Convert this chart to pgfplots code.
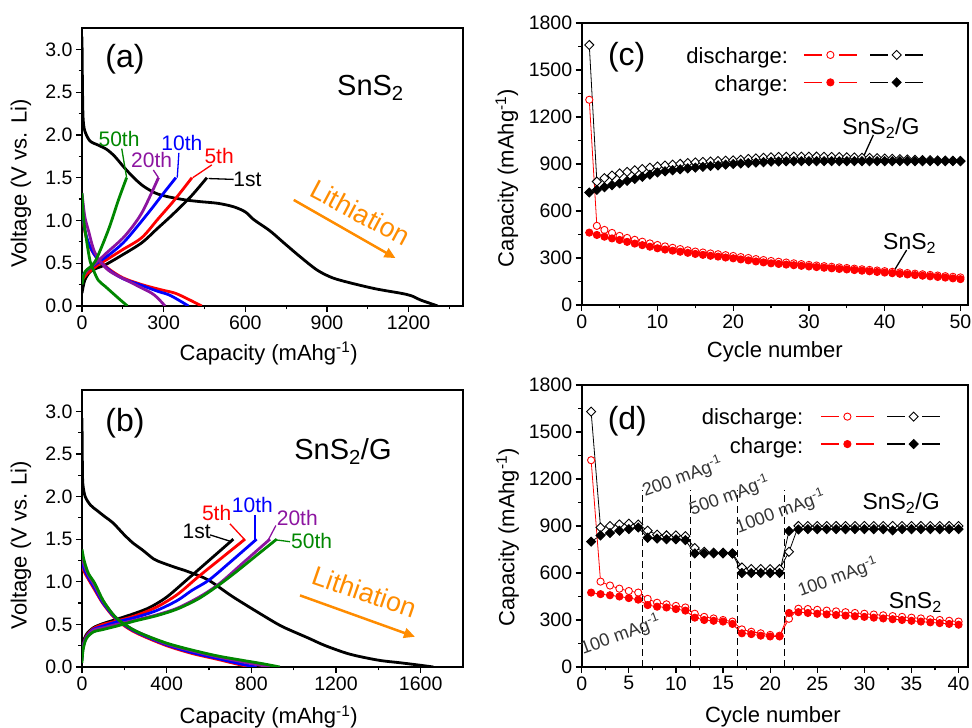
\documentclass[border=0pt]{standalone}
\usepackage{fontspec}
\setmainfont{Liberation Sans}
\usepackage{pgfplots}
\usepackage{pgfplotstable}
\pgfplotsset{compat=1.18}
\usetikzlibrary{arrows.meta}
\definecolor{cred}{RGB}{255,0,0}
\definecolor{cblue}{RGB}{0,0,255}
\definecolor{cpurple}{RGB}{140,20,160}
\definecolor{cgreen}{RGB}{0,135,0}
\definecolor{corange}{RGB}{255,140,0}
\newcommand{\fs}[1]{\fontsize{#1}{#1}\selectfont}

\pgfplotstableread{
cyc gd gc sd sc
1 1660 718 1310 462
2 788 735 505 447
3 810 752 479 436
4 826 765 460 425
5 840 777 441 415
6 850 792 428 403
7 860 805 416 392
8 868 818 404 382
9 876 832 393 372
10 884 846 383 362
11 890 853 374 354
12 896 860 365 347
13 901 866 357 340
14 906 872 349 333
15 910 877 341 326
16 913 882 335 320
17 916 887 329 314
18 919 891 324 309
19 921 896 318 303
20 923 900 313 298
21 927 903 306 291
22 932 906 300 285
23 936 909 293 278
24 940 912 287 272
25 943 915 281 266
26 945 916 276 262
27 946 917 271 258
28 947 918 266 254
29 947 918 261 250
30 947 918 256 246
31 947 918 252 242
32 946 918 248 238
33 945 918 244 234
34 944 918 240 230
35 943 918 236 227
36 942 918 232 223
37 940 918 228 219
38 939 918 224 215
39 937 918 220 211
40 935 918 216 207
41 933 918 212 203
42 931 918 208 199
43 929 918 204 195
44 927 918 200 191
45 925 918 196 187
46 924 918 192 183
47 923 918 188 179
48 922 918 184 175
49 921 918 180 170
50 920 918 176 165
}\tabc

\pgfplotstableread{
cyc gd gc sd sc
1 1630 800 1320 475
2 890 840 545 465
3 900 855 520 458
4 910 870 500 450
5 915 880 485 440
6 910 890 475 430
7 870 825 435 395
8 845 820 410 385
9 840 815 400 380
10 840 815 390 370
11 835 810 380 360
12 760 725 340 315
13 735 725 320 300
14 730 725 310 295
15 730 725 300 290
16 725 725 290 275
17 635 600 240 215
18 625 600 225 210
19 625 600 215 200
20 625 600 205 195
21 625 600 200 195
22 735 868 308 345
23 900 878 372 350
24 900 880 370 345
25 900 880 365 340
26 900 880 360 336
27 900 880 355 332
28 900 880 350 328
29 900 880 345 324
30 900 880 340 320
31 900 880 335 315
32 900 880 330 310
33 900 872 325 305
34 900 880 320 300
35 900 880 315 295
36 900 880 310 290
37 900 880 305 285
38 900 880 300 280
39 900 880 295 275
40 900 880 290 270
}\tabd

\pgfplotsset{
  panel/.style={
    scale only axis,
    axis line style={line width=1.6pt},
    tick style={line width=1.2pt, black},
    major tick length=6pt, minor tick length=3.5pt,
    tick align=outside,
    xtick pos=left, ytick pos=left,
    /pgf/number format/assume math mode=true,
    /pgf/number format/1000 sep={},
    tick label style={font=\fs{19.5}},
    label style={font=\fs{22}},
  },
  vpanel/.style={panel, ymin=0, ymax=3.25, ytick={0,0.5,...,3.0},
    minor ytick={0.25,0.75,...,2.75},
    yticklabel style={/pgf/number format/.cd, fixed, fixed zerofill, precision=1},
    ylabel={Voltage (V vs. Li)},
    xlabel={Capacity (mAhg\textsuperscript{-1})},
    ylabel style={at={(axis description cs:-0.16,0.44)}, anchor=center},
  },
  cpanel/.style={panel, ymin=0, ymax=1800, ytick={0,300,...,1800},
    minor ytick={150,450,...,1650},
    ylabel={Capacity (mAhg\textsuperscript{-1})},
    xlabel={Cycle number},
    legend columns=2,
    legend style={draw=none, fill=none, inner sep=0pt, anchor=north west,
      row sep=18.4pt, nodes={inner sep=0pt},
      /tikz/every even column/.append style={column sep=11pt}},
    legend image code/.code={
      \draw[##1,mark=none,line width=1.3pt] (0pt,0pt) -- (18pt,0pt);
      \draw[##1,mark=none,line width=1.3pt] (35pt,0pt) -- (53pt,0pt);
      \draw[##1] plot[only marks] coordinates {(26.5pt,0pt)};
    },
  },
  gdst/.style={black, line width=0.8pt, mark=square*, mark size=3.2pt, mark options={rotate=45, fill=white, line width=0.9pt}},
  gcst/.style={black, line width=0.8pt, mark=square*, mark size=3.2pt, mark options={rotate=45, fill=black, line width=0.9pt}},
  sdst/.style={cred, line width=0.8pt, mark=*, mark size=3.6pt, mark options={fill=white, line width=0.9pt}},
  scst/.style={cred, line width=0.8pt, mark=*, mark size=3.6pt, mark options={fill=cred, line width=0.9pt}},
}

\begin{document}
\begin{tikzpicture}
\useasboundingbox (0,0) rectangle (972pt,728pt);

% ---------------- (a)
\begin{axis}[vpanel, at={(82pt,422pt)}, anchor=south west, width=381pt, height=278pt,
  xmin=0, xmax=1400, xtick={0,300,...,1200}, minor xtick={150,450,...,1350},
  xlabel style={at={(axis description cs:0.49,-0.17)}, anchor=center}]
\addplot[black, line width=2.8pt, smooth] coordinates {(0,3.15)(1,2.8)(2,2.5)(4,2.2)(10,2.05)(29,1.93)(60,1.88)(91,1.83)(120,1.75)(152,1.63)(190,1.5)(226,1.4)(270,1.32)(312,1.28)(380,1.24)(434,1.22)(500,1.2)(557,1.16)(600,1.1)(631,1.01)(690,0.88)(741,0.74)(800,0.58)(864,0.42)(920,0.33)(986,0.27)(1080,0.2)(1170,0.15)(1210,0.12)(1244,0.07)(1280,0.03)(1307,0)};
\addplot[black, line width=2.8pt, smooth] coordinates {(0,0.15)(10,0.3)(30,0.4)(60,0.45)(85,0.48)(150,0.6)(220,0.74)(275,0.9)(330,1.06)(400,1.28)(459,1.5)};
\addplot[cred, line width=2.8pt, smooth] coordinates {(0,1.25)(5,1.0)(12,0.85)(25,0.72)(50,0.58)(96,0.44)(150,0.33)(220,0.25)(290,0.19)(342,0.15)(390,0.08)(440,0)};
\addplot[cred, line width=2.8pt, smooth] coordinates {(0,0.3)(20,0.38)(59,0.48)(100,0.56)(150,0.66)(220,0.8)(280,1.02)(340,1.24)(404,1.5)};
\addplot[cblue, line width=2.8pt, smooth] coordinates {(0,1.27)(5,1.02)(12,0.87)(25,0.73)(50,0.58)(96,0.43)(150,0.32)(220,0.24)(280,0.17)(320,0.13)(360,0.06)(391,0)};
\addplot[cblue, line width=2.8pt, smooth] coordinates {(0,0.35)(20,0.42)(55,0.5)(100,0.6)(158,0.76)(244,1.09)(300,1.32)(345,1.5)};
\addplot[cpurple, line width=2.8pt, smooth] coordinates {(0,1.32)(10,1.05)(23,0.89)(48,0.62)(96,0.42)(183,0.27)(256,0.15)(285,0.07)(305,0)};
\addplot[cpurple, line width=2.8pt, smooth] coordinates {(0,0.33)(20,0.42)(50,0.5)(90,0.62)(158,0.82)(220,1.09)(281,1.5)};
\addplot[cgreen, line width=2.8pt, smooth] coordinates {(0,1.32)(5,1.05)(11,0.89)(20,0.7)(30,0.52)(42,0.42)(60,0.3)(85,0.23)(120,0.13)(145,0.06)(167,0)};
\addplot[cgreen, line width=2.8pt, smooth] coordinates {(0,0.25)(11,0.4)(48,0.52)(97,0.89)(134,1.24)(164,1.5)};
% labels
\node[font=\fs{32}] at (axis cs:158,2.88) {(a)};
\node[font=\fs{29}] at (axis cs:1060,2.55) {SnS\textsubscript{2}};
\node[font=\fs{21}, text=cgreen] at (axis cs:136,1.95) {50th};
\draw[cgreen, line width=1.3pt] (axis cs:164,1.5) -- (axis cs:146,1.84);
\node[font=\fs{21}, text=cpurple] at (axis cs:256,1.71) {20th};
\draw[cpurple, line width=1.3pt] (axis cs:281,1.5) -- (axis cs:262,1.59);
\node[font=\fs{21}, text=cblue] at (axis cs:367,1.90) {10th};
\draw[cblue, line width=1.3pt] (axis cs:350,1.5) -- (axis cs:356,1.79);
\node[font=\fs{21}, text=cred] at (axis cs:504,1.75) {5th};
\draw[cred, line width=1.3pt] (axis cs:407,1.5) -- (axis cs:477,1.65);
\node[font=\fs{21}, text=black] at (axis cs:608,1.48) {1st};
\draw[black, line width=1.3pt] (axis cs:465,1.49) -- (axis cs:557,1.48);
\node[font=\fs{27}, text=corange, rotate=-28] at (axis cs:1023,1.09) {Lithiation};
\draw[corange, line width=2.5pt, -{Triangle[length=11pt,width=10pt]}] (axis cs:778,1.24) -- (axis cs:1152,0.56);
\end{axis}

% ---------------- (b)
\begin{axis}[vpanel, at={(82pt,61pt)}, anchor=south west, width=381pt, height=277pt,
  xmin=0, xmax=1800, xtick={0,400,...,1600}, minor xtick={200,600,1000,1400},
  xlabel style={at={(axis description cs:0.49,-0.18)}, anchor=center}]
\addplot[black, line width=2.8pt, smooth] coordinates {(0,2.92)(1,2.6)(2,2.35)(4,2.15)(15,2.0)(40,1.9)(69,1.84)(110,1.76)(147,1.69)(200,1.55)(243,1.45)(282,1.38)(337,1.27)(361,1.24)(439,1.17)(500,1.12)(597,1.02)(715,0.82)(872,0.58)(950,0.47)(1069,0.34)(1150,0.25)(1266,0.15)(1400,0.08)(1502,0.05)(1600,0.02)(1660,0)};
\addplot[black, line width=2.8pt, smooth] coordinates {(0,0.15)(5,0.28)(20,0.38)(53,0.46)(100,0.51)(164,0.56)(250,0.63)(321,0.7)(400,0.82)(494,1.02)(600,1.25)(715,1.5)};
\addplot[cred, line width=2.8pt, smooth] coordinates {(0,1.2)(10,1.12)(30,1.03)(61,0.9)(100,0.74)(156,0.57)(220,0.45)(282,0.37)(400,0.25)(518,0.16)(640,0.09)(740,0.03)(800,0)};
\addplot[cred, line width=2.8pt, smooth] coordinates {(0,0.12)(5,0.25)(20,0.36)(53,0.45)(100,0.5)(164,0.54)(250,0.6)(350,0.7)(450,0.85)(550,1.06)(660,1.28)(770,1.5)};
\addplot[cblue, line width=2.8pt, smooth] coordinates {(0,1.25)(10,1.15)(30,1.05)(61,0.92)(100,0.75)(156,0.58)(220,0.46)(282,0.38)(400,0.26)(518,0.17)(640,0.1)(760,0.03)(825,0)};
\addplot[cblue, line width=2.8pt, smooth] coordinates {(0,0.1)(5,0.24)(20,0.35)(53,0.44)(100,0.48)(164,0.53)(250,0.58)(350,0.66)(450,0.78)(520,0.9)(600,1.02)(700,1.23)(825,1.5)};
\addplot[cpurple, line width=2.8pt, smooth] coordinates {(0,1.3)(10,1.2)(30,1.08)(61,0.95)(100,0.77)(156,0.59)(220,0.47)(282,0.39)(400,0.27)(518,0.19)(640,0.12)(780,0.05)(890,0)};
\addplot[cpurple, line width=2.8pt, smooth] coordinates {(0,0.08)(5,0.23)(20,0.34)(53,0.43)(100,0.46)(164,0.5)(250,0.55)(350,0.61)(450,0.69)(560,0.83)(650,0.98)(760,1.22)(888,1.5)};
\addplot[cgreen, line width=2.8pt, smooth] coordinates {(0,1.38)(10,1.25)(30,1.1)(61,0.98)(100,0.78)(156,0.59)(220,0.47)(282,0.39)(400,0.28)(518,0.2)(640,0.13)(754,0.08)(850,0.04)(935,0)};
\addplot[cgreen, line width=2.8pt, smooth] coordinates {(0,0.05)(5,0.2)(20,0.33)(53,0.41)(100,0.44)(164,0.48)(250,0.54)(350,0.6)(450,0.68)(550,0.8)(640,0.95)(720,1.1)(820,1.3)(920,1.5)};
\node[font=\fs{32}] at (axis cs:203,2.86) {(b)};
\node[font=\fs{29}] at (axis cs:1233,2.53) {SnS\textsubscript{2}/G};
\node[font=\fs{21}, text=black] at (axis cs:542,1.59) {1st};
\draw[black, line width=1.3pt] (axis cs:605,1.55) -- (axis cs:707,1.47);
\node[font=\fs{21}, text=cred] at (axis cs:636,1.81) {5th};
\draw[cred, line width=1.3pt] (axis cs:699,1.68) -- (axis cs:770,1.49);
\node[font=\fs{21}, text=cblue] at (axis cs:805,1.90) {10th};
\draw[cblue, line width=1.3pt] (axis cs:817,1.78) -- (axis cs:817,1.49);
\node[font=\fs{21}, text=cpurple] at (axis cs:1017,1.75) {20th};
\draw[cpurple, line width=1.3pt] (axis cs:916,1.66) -- (axis cs:880,1.49);
\node[font=\fs{21}, text=cgreen] at (axis cs:1085,1.48) {50th};
\draw[cgreen, line width=1.3pt] (axis cs:920,1.49) -- (axis cs:983,1.47);
\node[font=\fs{27}, text=corange, rotate=-19] at (axis cs:1337,0.88) {Lithiation};
\draw[corange, line width=2.5pt, -{Triangle[length=11pt,width=10pt]}] (axis cs:1030,0.84) -- (axis cs:1573,0.355);
\end{axis}

% ---------------- (c)
\begin{axis}[cpanel, at={(581.7pt,423pt)}, anchor=south west, width=386.3pt, height=282pt,
  xmin=0, xmax=51, xtick={0,10,...,50}, minor xtick={5,15,...,45},
  ylabel style={at={(axis description cs:-0.194,0.45)}, anchor=center},
  xlabel style={at={(axis description cs:0.50,-0.167)}, anchor=center},
  legend style={at={(axis description cs:0.573,0.9035)}}]
\addplot[gdst, forget plot] table[x=cyc, y=gd] {\tabc};
\addplot[gcst, forget plot] table[x=cyc, y=gc] {\tabc};
\addplot[sdst, forget plot] table[x=cyc, y=sd] {\tabc};
\addplot[scst, forget plot] table[x=cyc, y=sc] {\tabc};
\addlegendimage{sdst}\addlegendentry{}
\addlegendimage{gdst}\addlegendentry{}
\addlegendimage{scst}\addlegendentry{}
\addlegendimage{gcst}\addlegendentry{}
\node[font=\fs{32}] at (axis cs:5.94,1581) {(c)};
\node[font=\fs{22}, anchor=base east] at (axis cs:27.7,1544) {discharge:};
\node[font=\fs{22}, anchor=base east] at (axis cs:27.7,1362) {charge:};
\node[font=\fs{23}] at (axis cs:39.5,1128) {SnS\textsubscript{2}/G};
\draw[line width=1.3pt] (axis cs:38.5,1085) -- (axis cs:37,925);
\node[font=\fs{23}] at (axis cs:43.3,394) {SnS\textsubscript{2}};
\draw[line width=1.3pt] (axis cs:42.9,351) -- (axis cs:40.9,191);
\end{axis}

% ---------------- (d)
\begin{axis}[cpanel, at={(581.7pt,61pt)}, anchor=south west, width=386.3pt, height=282pt,
  xmin=0, xmax=41, xtick={0,5,...,40}, minor xtick={2.5,7.5,...,37.5},
  ylabel style={at={(axis description cs:-0.192,0.46)}, anchor=center},
  xlabel style={at={(axis description cs:0.495,-0.176)}, anchor=center},
  legend style={at={(axis description cs:0.617,0.9046)}}]
\addplot[black, line width=1.1pt, dash pattern=on 7pt off 4pt, forget plot] coordinates {(6.5,0)(6.5,1130)};
\addplot[black, line width=1.1pt, dash pattern=on 7pt off 4pt, forget plot] coordinates {(11.5,0)(11.5,1130)};
\addplot[black, line width=1.1pt, dash pattern=on 7pt off 4pt, forget plot] coordinates {(16.5,0)(16.5,1130)};
\addplot[black, line width=1.1pt, dash pattern=on 7pt off 4pt, forget plot] coordinates {(21.5,0)(21.5,1130)};
\addplot[gdst, forget plot] table[x=cyc, y=gd] {\tabd};
\addplot[gcst, forget plot] table[x=cyc, y=gc] {\tabd};
\addplot[sdst, forget plot] table[x=cyc, y=sd] {\tabd};
\addplot[scst, forget plot] table[x=cyc, y=sc] {\tabd};
\addlegendimage{sdst}\addlegendentry{}
\addlegendimage{gdst}\addlegendentry{}
\addlegendimage{scst}\addlegendentry{}
\addlegendimage{gcst}\addlegendentry{}
\node[font=\fs{32}] at (axis cs:4.84,1566) {(d)};
\node[font=\fs{22}, anchor=base east] at (axis cs:23.9,1545) {discharge:};
\node[font=\fs{22}, anchor=base east] at (axis cs:23.9,1364) {charge:};
\node[font=\fs{23}] at (axis cs:33.9,1045) {SnS\textsubscript{2}/G};
\node[font=\fs{23}] at (axis cs:35.4,413) {SnS\textsubscript{2}};
\node[font=\fs{18}, text=black!80, rotate=20] at (axis cs:4.13,204) {100 mAg\textsuperscript{-1}};
\node[font=\fs{18}, text=black!80, rotate=20] at (axis cs:10.7,1211) {200 mAg\textsuperscript{-1}};
\node[font=\fs{18}, text=black!80, rotate=20] at (axis cs:15.7,1094) {500 mAg\textsuperscript{-1}};
\node[font=\fs{18}, text=black!80, rotate=20] at (axis cs:21.1,991) {1000 mAg\textsuperscript{-1}};
\node[font=\fs{18}, text=black!80, rotate=20] at (axis cs:27.2,572) {100 mAg\textsuperscript{-1}};
\end{axis}
\end{tikzpicture}
\end{document}
